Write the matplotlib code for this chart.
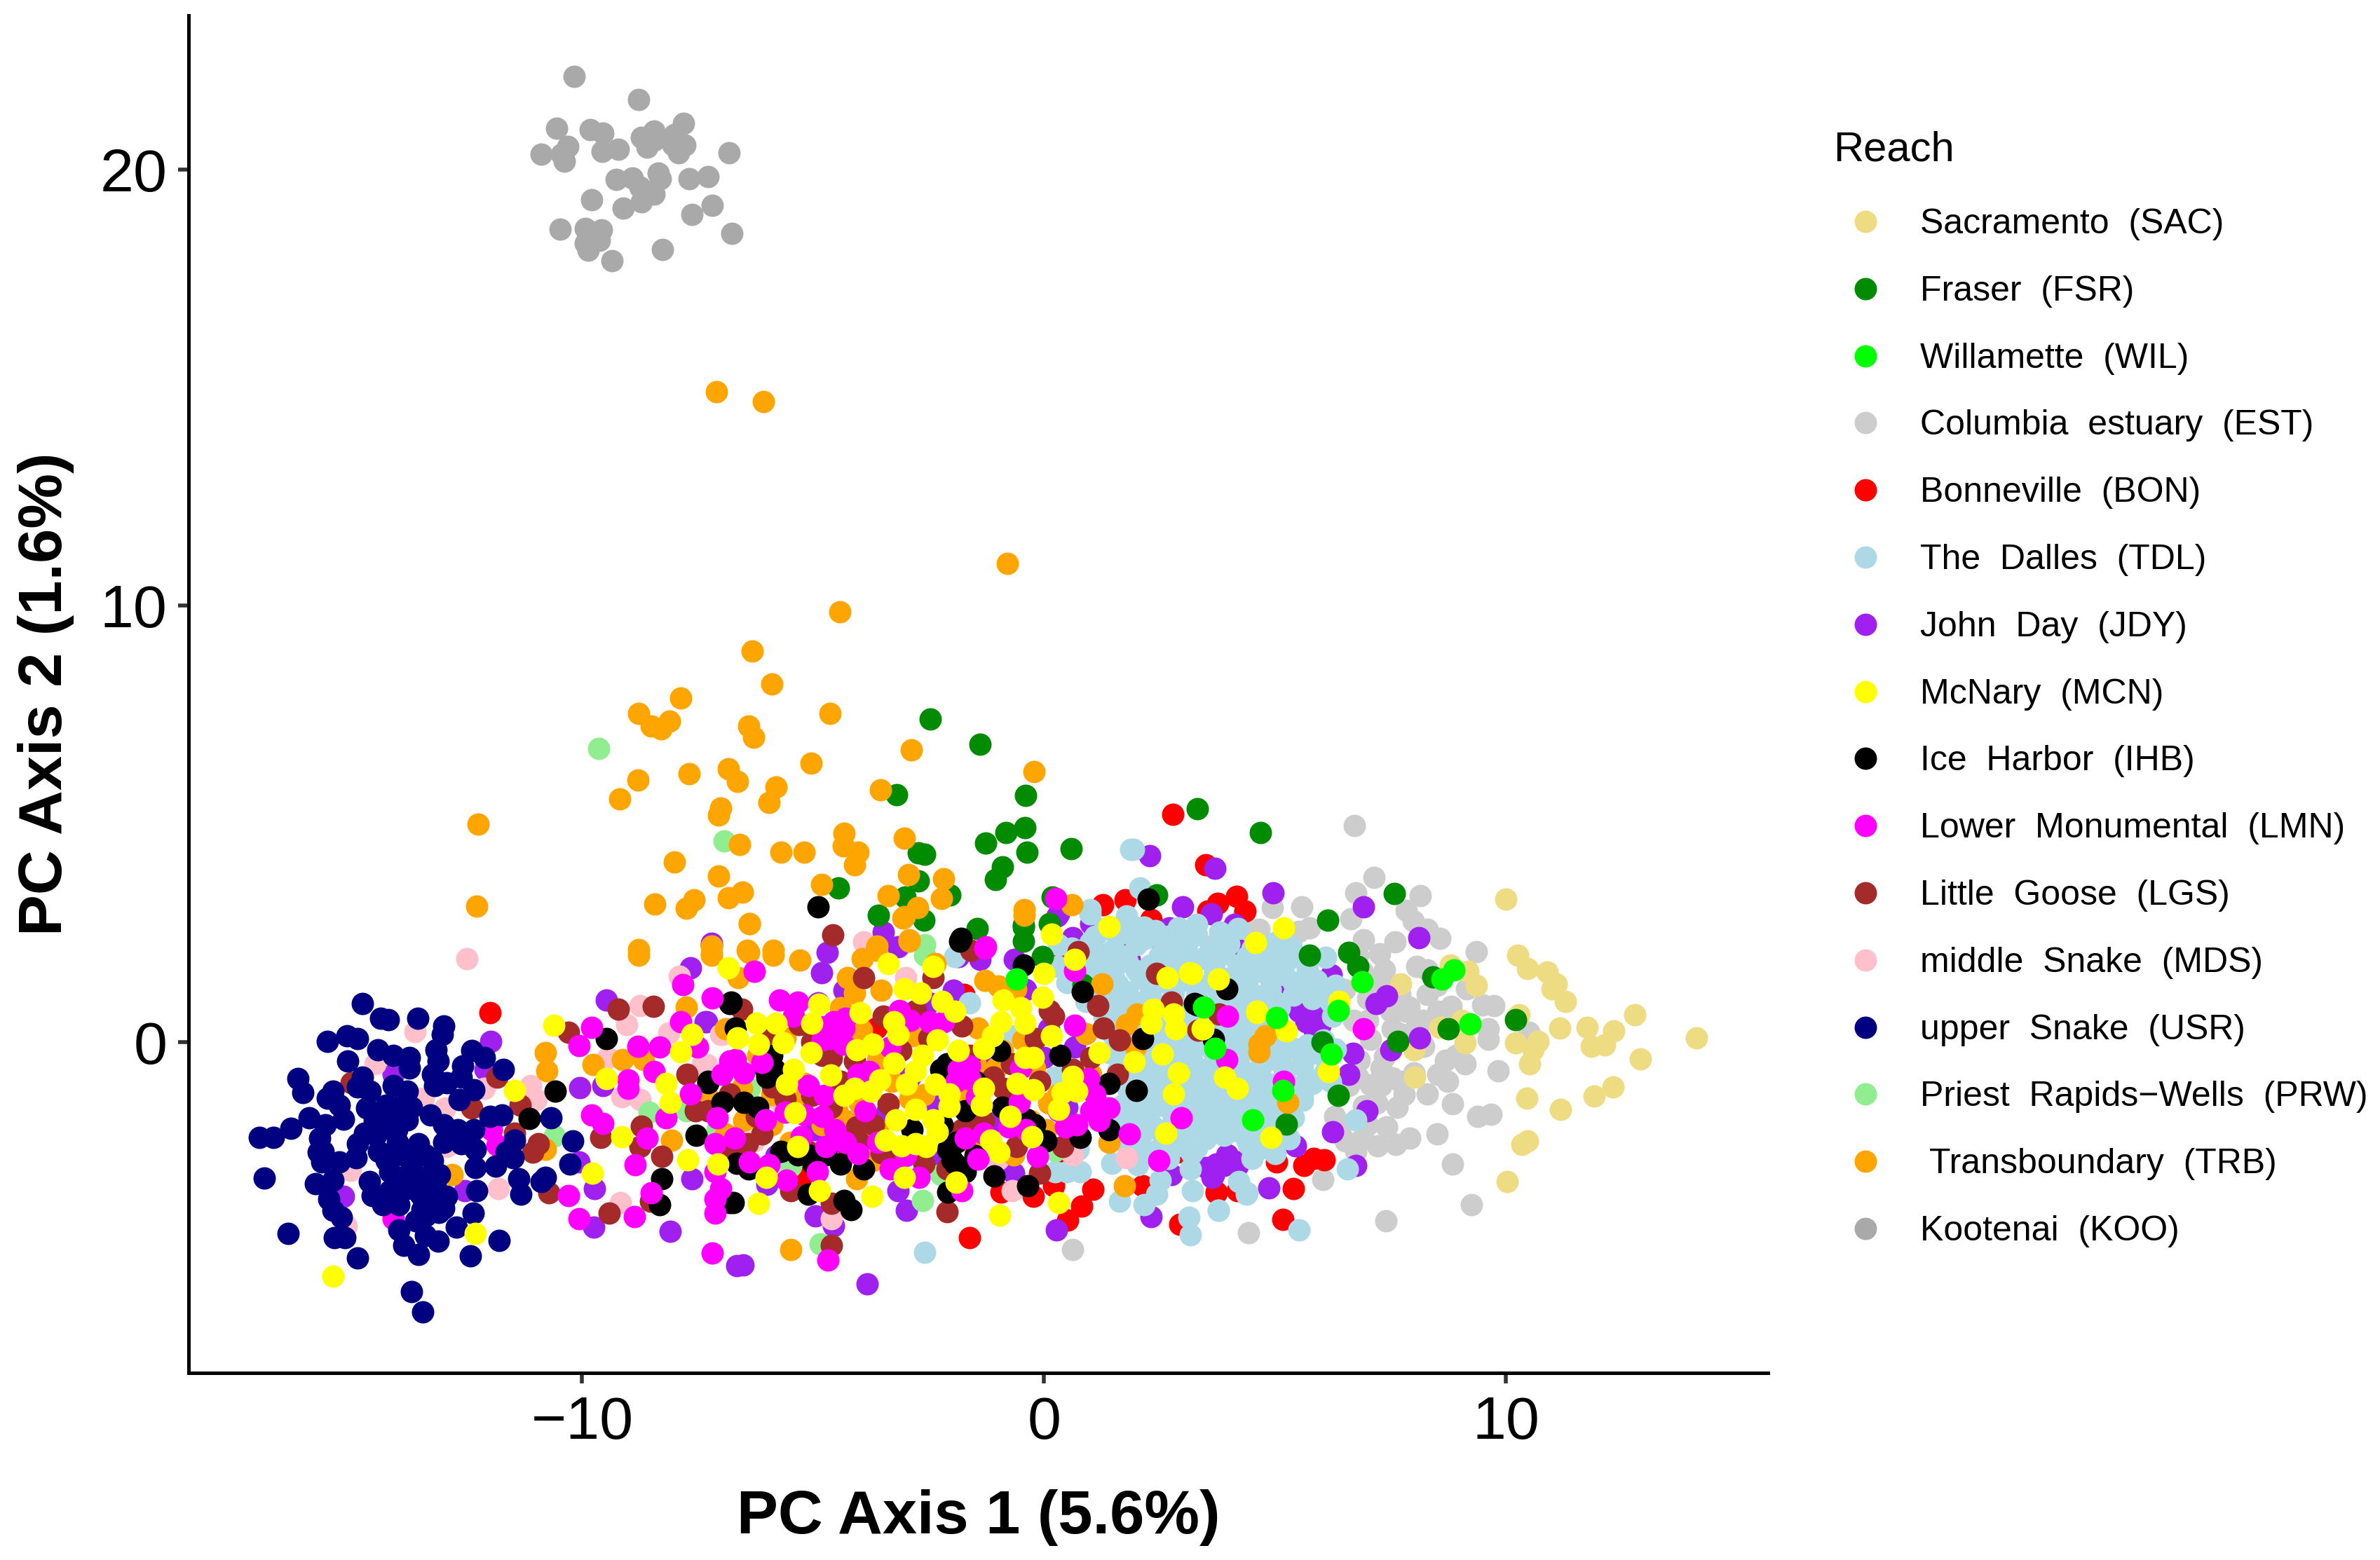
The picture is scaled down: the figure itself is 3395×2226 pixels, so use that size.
import matplotlib
matplotlib.use("Agg")
import matplotlib.pyplot as plt
from matplotlib.lines import Line2D

plt.rcParams['font.family'] = ['Liberation Sans', 'DejaVu Sans']

# valores (PC1, PC2) por tramo
koo = [(-10.17,22.14),(-8.78,21.6),(-10.55,20.95),(-9.83,20.91),(-9.55,20.83),(-7.81,21.05),(-8.01,20.8),(-8.45,20.88),(-8.72,20.74),(-10.31,20.53),(-10.88,20.35),(-10.39,20.19),(-10.44,20.35),(-9.56,20.42),(-9.21,20.46),(-8.59,20.51),(-8.44,20.67),(-7.78,20.56),(-7.91,20.38),(-8.03,20.56),(-6.82,20.38),(-9.27,19.77),(-8.92,19.8),(-8.35,19.92),(-8.31,19.79),(-7.68,19.79),(-7.27,19.83),(-8.74,19.6),(-8.44,19.44),(-8.72,19.25),(-9.8,19.3),(-9.11,19.12),(-7.63,18.97),(-7.19,19.18),(-10.48,18.63),(-9.93,18.64),(-9.58,18.61),(-9.93,18.31),(-9.63,18.37),(-9.87,18.15),(-9.36,17.91),(-8.26,18.17),(-6.76,18.54)]

trb = [(-7.09,14.9),(-6.08,14.68),(-0.8,10.97),(-4.42,9.87),(-6.32,8.97),(-5.89,8.2),(-7.86,7.89),(-8.78,7.54),(-8.51,7.24),(-8.29,7.18),(-8.11,7.35),(-6.4,7.24),(-6.29,6.98),(-4.64,7.53),(-2.88,6.7),(-5.04,6.4),(-6.84,6.26),(-6.64,5.97),(-7.69,6.15),(-8.79,6.01),(-9.18,5.58),(-0.22,6.2),(-3.54,5.79),(-5.8,5.85),(-5.96,5.5),(-7.0,5.37),(-7.04,5.2),(-12.26,5.0),(-4.33,4.78),(-3.02,4.67),(-6.59,4.53),(-4.35,4.5),(-4.03,4.35),(-5.69,4.35),(-5.19,4.35),(-4.11,4.06),(-8.0,4.13),(-2.94,3.84),(-2.18,3.74),(-7.05,3.8),(-4.81,3.61),(-6.53,3.43),(-6.84,3.31),(-7.58,3.26),(-7.75,3.07),(-8.43,3.16),(-12.28,3.11),(-3.37,3.35),(-2.22,3.3),(-2.74,3.09),(-3.03,2.87),(-6.38,2.71),(-0.43,3.03),(0.6,3.15),(-2.92,2.35),(-7.2,2.2),(-8.77,2.12),(-6.43,2.1),(-5.86,2.1),(-3.62,2.2),
       (-10.8,-0.24),(-10.76,-0.65),(-9.76,-0.52),(-9.13,-0.4),(-8.77,2.0),(-7.74,0.81),(-7.2,2.0),(-8.67,-0.4),(-8.07,-2.24),(-10.8,-2.46),(-12.81,-3.03),(-7.28,-1.32),(-6.38,2.72),(-6.4,2.05),(-5.86,2.0),(-5.28,1.88),(-7.2,2.02),(-6.62,1.48),(-3.05,2.85),(-2.92,2.32),(-3.94,1.92),(-3.63,2.11),(-4.25,1.48),(-4.1,1.13),(-3.53,1.19),(-2.36,1.8),(-1.28,1.42),(-1.0,1.29),(-0.43,2.91),(1.26,1.34),(-0.62,1.22),(-4.41,0.78),(-3.95,0.27),(-1.43,0.33),(-0.46,0.05),(-1.04,-0.59),(-5.18,-0.94),(-7.23,-1.32),(-6.54,-1.06),(-5.34,-1.38),(-4.8,-1.89),(-4.49,-1.57),(-4.06,-3.13),(-5.49,-4.76),(1.74,-3.29),(1.4,-2.3),(-0.66,-2.59),(-1.5,-2.46),(1.78,0.4),(2.01,0.65),(1.98,-0.11),(1.01,-0.74),(0.04,-2.0),(-2.86,0.14),(-3.71,-2.72),(4.65,-0.05),(-5.84,-0.87),(4.79,0.14),(4.66,-0.23),(5.28,-1.38),
       (-6.9,0.3),(-6.2,-0.3),(-5.6,0.1),(-4.9,0.2),(-4.2,0.1),(-3.6,-0.4),(-3.0,0.3),(-2.6,-1.2),(-2.0,-0.7),(-1.5,-0.5),(-0.9,-0.2),(-0.2,-0.6),(0.3,-1.2),(0.9,0.2),(-6.5,-1.8),(-5.9,-1.9),(-5.5,-2.3),(-4.7,-1.7),(-4.0,-1.4),(-3.3,-0.9),(-2.9,-1.3),(-1.7,-1.2),(-0.9,-1.5),(-0.3,-1.8),(0.1,-1.4),(-6.9,-2.1),(-5.9,-1.2),(-4.3,-1.8),(-3.6,-2.0)]

fsr = [(-2.47,7.4),(-1.38,6.83),(-3.19,5.67),(-0.4,5.66),(-0.41,4.92),(-0.83,4.8),(-1.26,4.56),(-0.37,4.35),(0.59,4.44),(-2.72,4.34),(-2.58,4.3),(-0.9,4.02),(-1.06,3.73),(-4.45,3.54),(-2.72,3.7),(-2.04,3.38),(-3.01,3.32),(-3.59,2.9),(-2.6,2.8),(-1.45,2.6),(-0.45,2.63),(-0.45,2.32),(0.12,2.71),(0.18,3.32),(-0.45,2.69),(-0.04,1.96),(0.85,1.32),(3.31,5.35),(4.69,4.8),(6.14,2.8),(7.58,3.4),(5.75,2.0),(6.6,2.06),(6.79,1.74),(8.42,1.49),(8.75,0.3),(10.2,0.51),(6.02,0.0),(7.66,0.02),(6.37,-1.22),(5.25,-1.88),(2.43,3.37)]

wil = [(8.87,1.66),(8.61,1.45),(6.88,1.38),(6.37,0.73),(9.22,0.42),(5.03,0.56),(3.45,0.8),(3.7,-0.15),(6.21,-0.28),(5.17,-1.1),(4.51,-1.79),(-0.6,1.45)]

sac = [(10.0,3.28),(10.25,2.0),(10.47,1.68),(10.89,1.6),(11.09,1.34),(11.0,1.22),(11.29,0.93),(7.72,1.33),(8.8,1.76),(9.17,1.62),(9.36,1.3),(10.29,0.62),(12.79,0.62),(11.17,0.33),(11.75,0.34),(12.33,0.26),(14.12,0.09),(9.04,0.5),(8.57,0.34),(9.11,-0.02),(10.2,-0.02),(10.7,0.02),(10.59,-0.18),(10.51,-0.5),(11.85,-0.1),(12.13,-0.06),(12.91,-0.39),(8.01,-0.18),(8.02,-0.8),(10.45,-1.28),(12.31,-1.02),(11.9,-1.23),(11.18,-1.54),(10.47,-2.26),(10.35,-2.34),(10.02,-3.2),(5.13,-0.48)]

est = [(6.71,4.96),(7.14,3.78),(6.75,3.42),(8.15,3.36),(5.58,3.1),(4.94,3.08),(4.32,2.9),(6.64,2.83),(7.84,3.02),(7.99,2.78),(8.57,2.38),(8.3,2.58),(9.35,2.08),(6.91,2.34),(7.26,2.02),(5.52,2.54),(5.75,2.62),(4.66,2.58),(7.37,1.66),(8.07,1.74),(8.3,1.66),(7.22,1.34),(8.3,1.1),(9.15,1.22),(9.73,0.84),(9.5,0.86),(8.81,0.82),(8.53,0.7),(9.62,0.3),(9.62,0.06),(10.5,0.22),(7.84,0.7),(8.03,0.3),(8.22,-0.1),(7.53,0.3),(7.06,0.06),(7.37,-0.34),(8.92,-0.3),(9.11,-0.5),(8.69,-0.42),(8.53,-0.74),(8.73,-0.9),(8.3,-1.18),(9.83,-0.66),(8.84,-1.42),(9.39,-1.7),(9.68,-1.66),(8.5,-2.1),(7.91,-2.2),(7.61,-2.34),(7.22,-2.38),(7.41,-1.94),(7.64,-1.5),(7.06,-0.98),(7.53,-0.82),(6.83,-0.42),(6.91,-1.46),(6.29,-1.7),(6.52,-2.26),(6.75,-2.5),(8.84,-2.79),(6.04,-3.15),(9.25,-3.72),(7.4,-4.1),(4.43,-4.36),(0.62,-4.76),(4.4,2.5),(3.6,2.2),(7.0,1.0),(6.7,0.5),(6.5,1.2),(7.7,-0.9),(7.0,-1.9),(6.6,-1.0),
       (6.9,1.6),(7.4,1.2),(7.0,0.5),(7.5,0.7),(7.3,-0.6),(7.7,0.2),(7.7,1.1),(6.8,-0.8),(6.4,-2.0),(7.2,-1.4),(8.0,-0.7),(7.8,-1.2),(6.9,-2.2),(7.3,-1.0),(6.8,2.0),(7.6,2.3),(8.5,1.3),(7.9,0.8),(8.2,0.5)]

bon = [(3.5,4.07),(4.16,3.34),(3.75,3.18),(3.54,3.0),(5.03,-2.74),(5.63,-2.82),(5.83,-2.66),(6.06,-2.7),(5.39,-3.35),(5.17,-4.07),(3.73,-3.46),(4.35,3.0),(2.79,5.22),(-12.0,0.68),(-1.62,-4.48),(1.06,-3.38),(0.82,-3.76),(0.51,-4.08),(-0.23,-3.54),(0.2,-3.29),(-0.93,-3.44),(2.87,-2.52),(3.72,-3.44),(2.13,-3.29),(-5.26,-3.1),(-3.64,0.33),(2.32,2.81),(2.56,2.08),(1.59,2.2),(0.31,1.8),(3.02,-2.52),(2.94,-4.18),(1.55,-1.76),(0.47,-2.6),(4.18,-3.4),(-1.74,1.1),(1.27,3.15),(1.75,3.26),(2.31,2.8)]

jdy = [(-3.83,-5.54),(-6.51,-5.11),(-4.56,-4.21),(-4.95,-3.98),(-2.98,-3.86),(-3.17,-3.41),(-6.0,-3.26),(0.27,-4.3),(-0.66,-3.0),(2.32,-4.0),(-4.7,2.05),(-4.82,1.59),(-3.48,2.53),(-3.17,2.18),(-4.33,1.19),(-7.31,0.46),(-7.2,2.27),(-1.97,1.19),(-1.39,1.89),(-0.65,1.89),(-1.85,1.96),(0.62,2.4),(0.31,2.94),(1.01,2.72),(2.71,2.62),(4.14,2.69),(3.72,-2.8),(3.64,-3.1),(3.95,-2.59),(3.52,-2.87),(4.18,-2.84),(2.75,-3.03),(0.66,-0.11),(0.0,-0.36),(-2.48,-2.7),
       (-11.98,0.02),(-12.1,-0.62),(-14.09,-0.74),(-15.17,-3.54),(-12.54,-3.41),(-10.06,-2.75),(-9.74,-3.35),(-9.75,-4.24),(-8.09,-4.33),(-9.48,0.97),(-10.05,-1.04),(-9.55,-1.0),(-7.66,1.7),(-7.2,2.21),(-7.34,0.46),(-7.63,-3.13),(-6.66,-5.13),
       (3.7,3.99),(4.96,3.42),(3.62,2.94),(4.12,2.7),(4.16,2.14),(6.92,3.1),(8.12,2.4),(6.21,1.54),(7.41,1.06),(7.19,0.88),(8.13,0.1),(7.5,-0.18),(6.6,-0.74),(6.99,-1.58),(6.25,-2.06),(6.75,-2.82),(4.87,-3.34),(5.44,-2.38),(3.66,-3.05),(3.89,-2.82),(4.2,-2.74),(3.97,-2.58),(5.52,0.7),(5.83,0.7),(5.98,0.38),(5.67,0.46),(5.83,0.3),(6.68,-0.26),(2.28,4.28),(0.28,2.89),(1.84,1.9),(4.6,1.7),(5.1,1.35),(3.0,3.1),
       (-6.6,-1.2),(-5.8,-2.6),(-5.0,-2.0),(-4.4,-2.5),(-3.4,-1.6),(-2.9,-0.8),(-2.4,-1.4),(-1.2,-0.6),(-1.0,-1.8),(-0.5,-1.2),(0.1,0.3),(0.5,-1.5),(-0.4,1.2),(-2.5,0.9),(-4.9,0.9),(0.6,-1.0)]

prw = [(-9.65,6.73),(-6.93,4.61),(-2.58,2.23),(-8.55,-1.6),(-7.08,-2.0),(-10.6,-2.15),(-7.74,-1.57),(-2.59,1.99),(-6.38,-1.06),(-5.49,-2.84),(-2.63,-3.63),(-2.24,-3.03),(-4.84,-4.62),(0.23,-2.49)]

mds = [(-12.49,1.91),(-13.62,0.24),(-14.48,-0.49),(-13.43,-1.28),(-12.97,-1.51),(-12.11,-1.06),(-11.81,-3.35),(-15.02,-2.94),(-12.93,-2.4),(-15.1,-4.2),(-11.11,-1.0),(-11.0,-1.32),(-8.75,0.84),(-9.04,0.4),(-7.9,1.51),(-9.14,-1.25),(-8.75,-1.32),(-9.17,-3.67),(-7.39,-0.49),(-6.97,0.18),(-8.13,0.21),(-9.45,-0.36),(-7.0,0.18),(-7.31,-0.52),(-5.77,-1.32),(-6.27,-2.27),(-4.6,-4.05),(-0.69,-3.41),(-3.91,2.3),(-2.99,1.48),(1.78,-2.65),(0.62,-2.59),(-1.0,-2.68)]

lgs = [(-9.21,0.75),(-8.46,0.82),(-10.3,0.23),(-11.84,-0.81),(-12.39,-1.51),(-11.34,-1.44),(-11.46,-2.08),(-10.95,-2.33),(-11.07,-2.52),(-9.6,-2.18),(-10.72,-3.45),(-9.42,-3.92),(-8.52,-3.64),(-8.71,-1.92),(-8.75,-2.4),(-8.28,-2.62),(-7.73,-0.74),(-7.55,-1.57),(-6.81,-1.19),(-15.0,-0.93),
       (-4.58,2.46),(-3.91,1.48),(-6.54,0.75),(-2.4,1.48),(-1.58,2.11),(0.74,2.08),(1.16,0.84),(1.28,0.33),(1.63,0.05),(2.44,1.57),(2.75,0.91),(3.33,0.27),(3.79,0.65),(1.59,-0.74),(1.01,-0.36),(0.62,-0.62),(0.12,0.72),(-1.78,0.37),(-2.78,0.72),(-3.48,0.59),(-5.03,0.0),(-4.1,-0.43),(-4.6,-0.37),(-5.88,-1.03),(-5.03,-1.22),(-6.23,-1.7),(-3.37,-1.41),(-4.06,-1.95),(-4.22,-2.46),(-1.78,-2.0),(-6.77,-2.43),(-6.42,-2.33),(-3.52,-2.53),(-5.49,-3.41),(-4.6,-3.7),(-2.1,-3.89),(-4.6,-4.65),(-0.89,-1.06),(-1.31,-1.82),(-0.19,0.08),(-7.27,-1.57),
       (-6.0,0.2),(-5.3,0.4),(-4.8,-0.3),(-4.4,-0.9),(-3.9,-0.9),(-3.1,-0.2),(-2.5,0.1),(-1.6,-0.3),(-1.1,-0.8),(-0.7,-0.5),(-0.1,-0.9),(0.2,0.6),(-5.6,-1.3),(-5.1,-2.5),(-4.6,-1.5),(-3.7,-1.9),(-3.2,-2.7),(-2.1,-2.9),(-1.5,-2.0),(-0.6,-2.4),(0.4,-2.4),(-0.1,-3.0),(-6.1,-2.1),(-4.0,-2.3),(-2.6,-2.8)]

ihb = [(-9.47,0.08),(-10.58,-1.13),(-11.15,-1.75),(-8.28,-3.13),(-8.32,-3.73),(-7.53,-2.14),(-6.81,-3.67),(-6.81,0.88),(-7.28,-0.9),(-6.97,-1.38),(-4.9,3.1),(-1.8,2.37),(2.26,3.28),(-1.82,2.31),(-0.45,1.76),(0.83,1.16),(2.13,0.08),(2.0,-1.11),(1.4,-0.94),(1.4,-2.01),(0.78,-2.18),(3.95,1.22),(3.25,0.88),(0.35,-0.3),(-0.96,-0.2),(-2.24,-0.62),(-6.77,0.91),(-6.69,0.33),(-5.84,-0.62),(-6.5,-1.38),(-6.96,-1.38),(-7.27,-0.93),(-2.86,-2.0),(-2.09,-2.46),(-1.93,-2.78),(-1.7,-2.97),(-1.08,-3.06),(-0.35,-3.29),(-2.09,-3.44),(-5.1,-3.48),(-4.33,-3.63),(-4.18,-3.83),(-6.73,-3.67),(-6.03,-0.62),(-5.1,-2.59),(-4.72,-2.59),(-6.65,-2.78),(-5.34,-2.59),(-0.38,-1.76),(-1.7,-1.57),(3.66,0.06),(3.31,0.86),(0.04,-2.27),
       (-5.9,-0.3),(-6.0,-0.8),(-2.1,-0.5),(-2.2,-1.9),(-2.0,-2.7),(-1.9,-2.3),(-1.5,-2.6),(-1.5,-0.9),(-0.9,-1.5),(-0.2,-1.9),(-6.4,-2.9),(-5.7,-2.5),(-5.0,-2.8),(-4.4,-2.8),(-3.9,-2.9),(-6.2,-1.5)]

lmn = [(-11.96,-2.0),(-11.84,-2.36),(-9.79,0.34),(-10.06,-0.08),(-8.79,-0.09),(-9.0,-0.87),(-9.0,-1.06),(-9.79,-1.67),(-9.55,-1.86),(-8.59,-2.2),(-8.85,-2.81),(-10.3,-3.51),(-10.06,-4.04),(-8.87,-4.0),(-8.5,-3.46),(-8.18,-1.73),(-8.32,-0.11),(-8.44,-0.68),(-7.86,0.46),(-7.82,1.32),(-7.18,1.01),(-7.51,-0.11),(-7.66,-1.19),(-6.97,-0.74),(-6.81,-0.43),(-7.08,-1.73),(-7.12,-2.33),(-7.12,-2.97),(-7.0,-3.35),(-7.12,-3.6),(-7.12,-3.92),(-7.18,-4.84),(-14.09,-4.05),
       (-6.28,1.62),(-5.73,0.97),(-5.34,0.91),(-5.42,0.59),(-4.56,0.46),(-4.33,0.33),(-4.6,0.08),(-3.13,0.72),(-2.48,0.46),(-2.17,0.46),(-1.28,2.15),(0.66,0.39),(0.66,1.64),(-6.69,-0.4),(-6.11,-0.46),(-6.03,-1.79),(-5.18,-1.67),(-4.76,-1.22),(-4.02,-0.74),(-3.79,-0.68),(-3.33,-0.11),(-3.87,-1.57),(-4.53,-2.0),(-4.72,-2.4),(-5.26,-2.17),(-4.02,-2.55),(-6.38,-2.75),(-5.96,-2.81),(-5.57,-3.16),(-4.91,-2.97),(-4.68,-5.0),(-3.33,-2.9),(-2.71,-3.1),(-1.78,-3.41),(-1.85,-0.62),(-1.62,-0.55),(-1.47,-1.25),(-0.54,-1.38),(-0.77,-1.95),(-1.31,-2.08),(-1.43,-2.68),(-0.15,-2.62),(0.31,-1.57),(1.01,-1.57),(1.4,-1.51),(0.47,-1.95),(1.84,-2.11),(2.48,-2.71),(2.97,-1.73),(3.97,0.59),(0.97,-0.84),(3.95,-0.4),(0.25,3.3),(-1.27,2.19),(6.91,0.3),(5.19,-0.9),
       (-4.5,0.2),(-4.3,0.55),(-4.75,0.35),(-4.35,-0.05),(-4.8,0.05),(-2.9,0.5),(-1.9,-0.9),(-1.6,-0.85),(-3.6,-2.3),(-4.3,-2.3),(-5.6,-1.6),(-4.8,-1.7),(-3.0,-2.6),(-1.7,-2.2),(-0.4,-2.0),(-0.5,-0.6),(0.7,-1.9),(1.1,-1.2),(1.2,-1.8),(-6.5,-0.7),(-6.7,-2.2),(-5.1,-1.0)]

usr = [(-14.76,0.89),(-14.36,0.54),(-14.19,0.51),(-13.56,0.54),(-13.0,0.37),(-13.02,0.18),(-15.52,0.02),(-15.09,0.14),(-14.86,0.08),(-15.07,-0.43),(-14.42,-0.17),(-14.09,-0.3),(-13.74,-0.36),(-13.74,-0.59),(-13.16,-0.17),(-13.12,-0.43),(-12.39,-0.2),(-12.11,-0.36),(-11.7,-0.62),(-12.58,-0.55),(-13.24,-0.74),(-12.93,-0.93),(-12.62,-0.81),(-12.35,-1.09),(-12.66,-1.32),(-16.16,-0.84),(-16.04,-1.16),(-15.4,-1.13),(-15.52,-1.29),(-14.76,-0.81),(-14.86,-1.03),(-14.59,-1.13),(-14.09,-1.0),(-13.78,-1.13),(-14.67,-1.51),(-14.24,-1.44),(-15.25,-1.44),(-15.17,-1.76),(-15.91,-1.73),(-15.56,-1.89),(-16.31,-1.98),(-16.68,-2.19),(-16.99,-2.19),(-15.68,-2.2),(-15.71,-2.52),(-15.64,-2.75),(-15.25,-2.75),(-14.9,-2.65),(-14.86,-2.33),(-14.47,-2.14),(-14.17,-1.82),(-13.78,-1.79),(-13.28,-1.67),(-13.0,-1.89),(-12.7,-2.0),(-12.35,-2.0),(-12.62,-2.33),(-12.31,-2.46),(-12.32,-2.87),(-11.88,-2.84),(-11.65,-2.52),(-11.5,-2.65),(-11.46,-2.24),(-12.0,-1.7),(-11.73,-1.67),(-10.68,-1.73),(-10.2,-2.27),(-10.27,-2.79),(-11.38,-3.13),(-11.32,-3.48),(-10.8,-3.1),(-10.88,-3.19),(-12.29,-3.41),(-12.36,-3.92),(-12.73,-4.24),(-16.88,-3.11),(-15.77,-3.25),(-15.4,-3.16),(-15.48,-3.6),(-15.4,-3.86),(-15.21,-4.02),(-16.36,-4.39),(-15.37,-4.48),(-15.13,-4.48),(-14.86,-4.95),(-13.7,-5.72),(-13.45,-6.19),(-12.42,-4.89),(-11.8,-4.54),(-13.12,-4.56),(-13.55,-4.87),(-13.86,-4.65),(-13.97,-4.3),(-13.39,-4.43),(-13.39,-3.98),(-13.47,-3.83),(-12.93,-3.54),(-13.16,-3.35),(-13.08,-3.03),(-13.39,-2.59),(-13.55,-2.33),(-14.01,-2.59),(-14.17,-2.97),(-13.78,-3.35),(-14.17,-3.41),(-14.55,-3.51),(-14.32,-3.73),(-13.97,-3.73),(-14.24,-2.71),(-13.24,-3.67),(-13.7,-2.84),(-13.24,-2.71),(-14.36,-2.0),(-14.71,-2.08),(-14.01,-2.0),
       (-14.0,-2.3),(-13.8,-2.6),(-13.9,-3.1),(-13.5,-3.1),(-13.5,-3.5),(-14.4,-2.5),(-13.0,-3.8),(-13.6,-4.1),(-14.5,-1.8),(-14.0,-1.5),(-13.0,-2.3),(-15.6,-2.5),(-13.7,-1.5),(-13.2,-1.0),(-13.1,-3.9),(-14.6,-3.2)]

mcn = [(-11.46,-1.11),(-10.61,0.39),(-9.47,-0.84),(-9.14,-2.17),(-9.78,-3.0),(-12.31,-4.38),(-15.4,-5.37),(-7.63,0.18),(-7.86,-0.22),(-8.19,-0.94),(-8.09,-1.38),(-7.72,-2.7),(-7.06,-2.79),(-6.83,1.7),
       (-3.37,1.8),(-2.41,1.73),(1.4,2.65),(0.16,2.48),(0.66,1.89),(0.0,1.57),(-0.04,1.03),(-0.89,0.97),(-3.02,1.22),(-2.67,1.13),(-2.2,0.94),(-1.93,0.71),(-4.87,0.87),(-3.98,0.68),(-5.03,0.43),(-6.23,0.43),(-5.8,0.43),(-6.64,0.09),(-6.19,-0.05),(-5.65,-0.01),(-5.04,-0.24),(-3.25,0.46),(-3.17,0.18),(-4.06,-0.17),(-3.71,-0.05),(-0.93,0.46),(-1.12,0.14),(-1.31,-0.14),(-0.5,0.78),(-0.42,0.43),(0.16,0.14),(1.19,-0.24),(1.95,-0.45),(2.56,-0.27),(2.9,-0.71),(2.8,-1.19),(2.67,1.48),(3.15,1.59),(3.77,1.45),(2.36,0.75),(2.32,0.43),(2.8,0.65),(2.85,0.3),(3.43,0.3),(3.91,-0.81),(4.18,-1.06),(4.61,0.68),(2.63,-2.08),(-2.32,0.05),(-1.86,-0.2),(-2.63,-0.3),(-3.25,-0.48),(-2.78,-0.65),(-2.98,-0.97),(-2.36,-0.97),(-2.05,-1.19),(-2.05,-1.48),(-1.31,-1.06),(-1.35,-1.44),(-0.42,-0.36),(-0.23,-0.36),(-0.58,-0.95),(-0.23,-1.09),(0.62,-0.78),(0.7,-1.13),(0.39,-1.16),(0.31,-1.54),(-0.73,-1.7),(-0.27,-2.17),(-1.16,-2.24),(-0.97,-2.52),(-5.42,-0.62),(-5.57,-0.97),(-4.62,-0.76),(-4.33,-1.22),(-4.1,-1.06),(-3.75,-1.13),(-3.56,-0.87),(-5.4,-1.62),(-5.34,-2.4),(-6.02,-3.1),(-6.19,-3.7),(-4.86,-3.41),(-3.73,-3.54),(-3.02,-3.1),(-1.91,-3.21),(0.31,-3.67),(-0.96,-3.97),
       (-3.21,-1.79),(-2.78,-1.54),(-2.4,-1.79),(-2.32,-2.05),(-2.55,-2.4),(-3.09,-2.37),(-3.44,-2.24),(-2.78,-2.33),
       (4.57,2.28),(5.18,2.62),(6.39,0.94),(4.61,0.7),(5.24,0.26),(3.44,0.3),(6.15,-0.67),(4.91,-2.19),(3.19,1.58)]

# The Dalles: la nube central
tdl = [(-2.58,-4.81),(3.16,-4.42),(3.14,-4.02),(3.78,-3.86),(1.64,-3.64),(2.17,-3.73),(2.44,-3.48),(3.21,-3.41),(4.38,-3.48),(4.22,-3.19),(2.52,-3.16),(3.16,-2.9),(1.47,-2.78),(2.02,-2.81),(0.78,-2.97),(0.23,-2.97),(0.5,-2.97),(0.74,-2.46),(5.52,-4.3),(3.77,-3.86),(4.39,-3.46),(6.56,-2.9),(6.75,-1.78),(4.43,-2.34),(4.63,-2.46),(1.87,4.42),(1.93,4.41),(2.07,3.54),(1.0,3.03),(1.78,2.89),(2.17,2.63),(-1.62,0.9),(-0.7,0.14),(0.23,-0.81),(0.31,2.24),(1.0,2.94),(-1.93,1.96),
       (1.3,2.58),(1.9,2.66),(2.4,2.55),(2.9,2.62),(3.3,2.7),(3.8,2.52),(4.2,2.6),
       (0.6,2.15),(1.0,2.28),(1.5,2.12),(2.0,2.24),(2.6,2.18),(3.1,2.3),(3.6,2.1),(4.0,2.25),(4.5,2.14),(5.0,2.28),(5.35,2.18),
       (0.3,1.74),(0.9,1.86),(1.3,1.72),(1.8,1.84),(2.3,1.76),(2.8,1.88),(3.2,1.7),(3.7,1.84),(4.2,1.76),(4.7,1.86),(5.05,1.72),(6.1,1.95),
       (0.5,1.36),(1.1,1.44),(1.6,1.32),(2.1,1.46),(2.5,1.38),(3.0,1.42),(3.5,1.3),(3.9,1.46),(4.4,1.34),(4.9,1.44),(5.4,1.36),(5.9,1.42),(6.3,1.3),
       (0.9,0.94),(1.4,1.06),(1.9,0.96),(2.3,1.04),(2.8,0.92),(3.3,1.06),(3.8,1.0),(4.2,0.92),(4.6,1.06),(5.0,0.94),(5.4,1.08),(5.8,1.0),(6.2,0.92),
       (1.3,0.56),(1.7,0.66),(2.1,0.54),(2.6,0.64),(3.0,0.58),(3.5,0.66),(3.9,0.52),(4.4,0.62),(4.8,0.56),(6.25,0.6),
       (1.5,0.16),(1.9,0.26),(2.3,0.14),(2.8,0.24),(3.2,0.18),(3.7,0.26),(4.1,0.12),(4.6,0.22),(5.0,0.16),(6.05,0.05),
       (1.4,-0.24),(1.8,-0.14),(2.2,-0.26),(2.7,-0.16),(3.1,-0.22),(3.6,-0.14),(4.0,-0.26),(4.5,-0.16),(4.9,-0.24),(5.4,-0.14),(5.9,-0.26),(6.3,-0.16),
       (1.6,-0.64),(2.0,-0.54),(2.5,-0.66),(2.9,-0.56),(3.4,-0.62),(3.8,-0.54),(4.3,-0.66),(4.7,-0.56),(5.2,-0.62),(5.6,-0.54),(6.1,-0.66),
       (1.8,-1.04),(2.2,-0.94),(2.7,-1.06),(3.1,-0.96),(3.6,-1.02),(4.0,-0.94),(4.5,-1.06),(4.9,-0.96),(5.4,-1.02),(5.8,-0.94),
       (1.7,-1.44),(2.1,-1.34),(2.6,-1.46),(3.0,-1.36),(3.5,-1.42),(3.9,-1.34),(4.4,-1.46),(4.8,-1.36),(5.2,-1.42),(5.6,-1.34),
       (1.5,-1.84),(1.9,-1.74),(2.3,-1.86),(2.8,-1.76),(3.2,-1.82),(3.7,-1.74),(4.1,-1.86),(4.6,-1.76),(5.0,-1.82),(5.4,-1.74),
       (1.7,-2.24),(2.1,-2.14),(2.6,-2.26),(3.0,-2.16),(3.5,-2.22),(3.9,-2.14),(4.4,-2.26),(4.8,-2.16),(5.3,-2.22),
       (1.8,-2.64),(2.3,-2.54),(2.7,-2.66),(3.2,-2.56),(4.5,-2.66),(5.0,-2.56),
       (1.1,2.42),(1.6,2.46),(2.2,2.38),(2.7,2.42),(3.3,2.46),(3.9,2.4),(0.7,1.95),(1.2,2.02),(1.7,1.98),(2.5,1.98),(3.0,2.04),(3.4,1.92),(3.9,2.02),(4.4,1.96),(4.9,2.02),(5.3,1.92),(1.0,1.62),(1.5,1.52),(2.0,1.64),(2.6,1.56),(3.2,1.5),(3.7,1.6),(4.2,1.54),(4.6,1.62),(5.2,1.55),(5.7,1.65),(1.2,1.22),(1.8,1.16),(2.3,1.24),(2.8,1.14),(3.3,1.26),(4.0,1.2),(4.4,1.12),(4.9,1.2),(5.6,1.2),(6.05,1.15),
       (1.6,0.82),(2.1,0.78),(2.6,0.84),(3.2,0.78),(3.7,0.82),(4.2,0.74),(4.6,0.84),(5.1,0.78),(1.7,0.4),(2.1,0.38),(2.5,0.42),(3.0,0.36),(3.4,0.42),(3.9,0.36),(4.3,0.4),(4.8,0.38),(1.6,0.0),(2.0,0.02),(2.5,-0.02),(3.0,0.04),(3.4,-0.04),(3.9,0.02),(4.3,-0.02),(4.8,0.04),(5.2,-0.02),(5.7,-0.06),(1.8,-0.38),(2.3,-0.44),(2.7,-0.38),(3.2,-0.42),(3.7,-0.36),(4.2,-0.44),(4.7,-0.38),(5.1,-0.42),(5.6,-0.36),(1.9,-0.82),(2.4,-0.76),(2.9,-0.84),(3.4,-0.78),(3.8,-0.84),(4.3,-0.76),(4.7,-0.84),(5.2,-0.78),(5.7,-0.82),(6.2,-0.9),(1.9,-1.22),(2.4,-1.16),(2.9,-1.24),(3.3,-1.18),(3.8,-1.22),(4.2,-1.16),(4.7,-1.24),(5.1,-1.18),(5.6,-1.22),(1.7,-1.62),(2.3,-1.56),(2.8,-1.64),(3.3,-1.6),(3.8,-1.56),(4.2,-1.64),(4.7,-1.58),(5.1,-1.62),(1.9,-2.02),(2.4,-1.98),(2.9,-2.04),(3.4,-1.96),(3.8,-2.02),(4.2,-2.04),(4.7,-1.96),(5.2,-2.02),(2.0,-2.42),(2.5,-2.44),(3.0,-2.38),(3.3,-2.42),(4.7,-2.4)]

# capas en el orden en que se ven superpuestas
series = {
    "EST": (est, "#CDCDCD"),
    "SAC": (sac, "#EEDC82"),
    "BON": (bon, "#FF0000"),
    "JDY": (jdy, "#A020F0"),
    "TDL": (tdl, "#ADD8E6"),
    "FSR": (fsr, "#008B00"),
    "MDS": (mds, "#FFC0CB"),
    "PRW": (prw, "#90EE90"),
    "TRB": (trb, "#FFA500"),
    "LGS": (lgs, "#A52A2A"),
    "IHB": (ihb, "#000000"),
    "LMN": (lmn, "#FF00FF"),
    "USR": (usr, "#000080"),
    "MCN": (mcn, "#FFFF00"),
    "WIL": (wil, "#00FF00"),
    "KOO": (koo, "#A9A9A9"),
}

nombres = ["Sacramento  (SAC)", "Fraser  (FSR)", "Willamette  (WIL)", "Columbia  estuary  (EST)", "Bonneville  (BON)",
           "The  Dalles  (TDL)", "John  Day  (JDY)", "McNary  (MCN)", "Ice  Harbor  (IHB)", "Lower  Monumental  (LMN)",
           "Little  Goose  (LGS)", "middle  Snake  (MDS)", "upper  Snake  (USR)", "Priest  Rapids\u2212Wells  (PRW)",
           " Transboundary  (TRB)", "Kootenai  (KOO)"]
codigos = ["SAC", "FSR", "WIL", "EST", "BON", "TDL", "JDY", "MCN", "IHB", "LMN", "LGS", "MDS", "USR", "PRW", "TRB", "KOO"]

ancho, alto = 3395, 2226
fig = plt.figure(figsize=(ancho / 100, alto / 100), dpi=100)
ax = fig.add_axes([269 / ancho, (alto - 1959) / alto, (2522 - 269) / ancho, (1959 - 22) / alto])

for codigo, (puntos, color) in series.items():
    xs = [p[0] for p in puntos]
    ys = [p[1] for p in puntos]
    ax.scatter(xs, ys, s=530, color=color, linewidths=0, clip_on=False)

ax.set_xlim(-18.52, 15.67)
ax.set_ylim(-7.58, 23.53)
ax.set_xticks([-10, 0, 10])
ax.set_yticks([0, 10, 20])
ax.tick_params(length=11, width=4, color="#333333", labelsize=62, labelcolor="black")
ax.tick_params(axis='x', pad=12)
ax.tick_params(axis='y', pad=11)
for lado in ["top", "right"]:
    ax.spines[lado].set_visible(False)
for lado in ["left", "bottom"]:
    ax.spines[lado].set_linewidth(3.6)

fig.text(1396 / ancho, 1 - 2166 / alto, "PC Axis 1 (5.6%)", fontsize=63.6, fontweight="bold", ha="center", va="center")
fig.text(65 / ancho, 1 - 990 / alto, "PC Axis 2 (1.6%)", fontsize=63.6, fontweight="bold", rotation=90, ha="center", va="center")

# leyenda a mano para respetar el espaciado
fig.text(2615 / ancho, 1 - 214 / alto, "Reach", fontsize=43, ha="left", va="center")
for i, (nombre, codigo) in enumerate(zip(nombres, codigos)):
    y = 1 - (316 + i * 95.8) / alto
    fig.add_artist(Line2D([2661 / ancho], [y], marker="o", markersize=23, markeredgewidth=0,
                          color=series[codigo][1], linestyle="none", transform=fig.transFigure))
    fig.text(2739 / ancho, y - 4 / alto, nombre, fontsize=36, ha="left", va="center")

fig.savefig("out.png", dpi=100)
